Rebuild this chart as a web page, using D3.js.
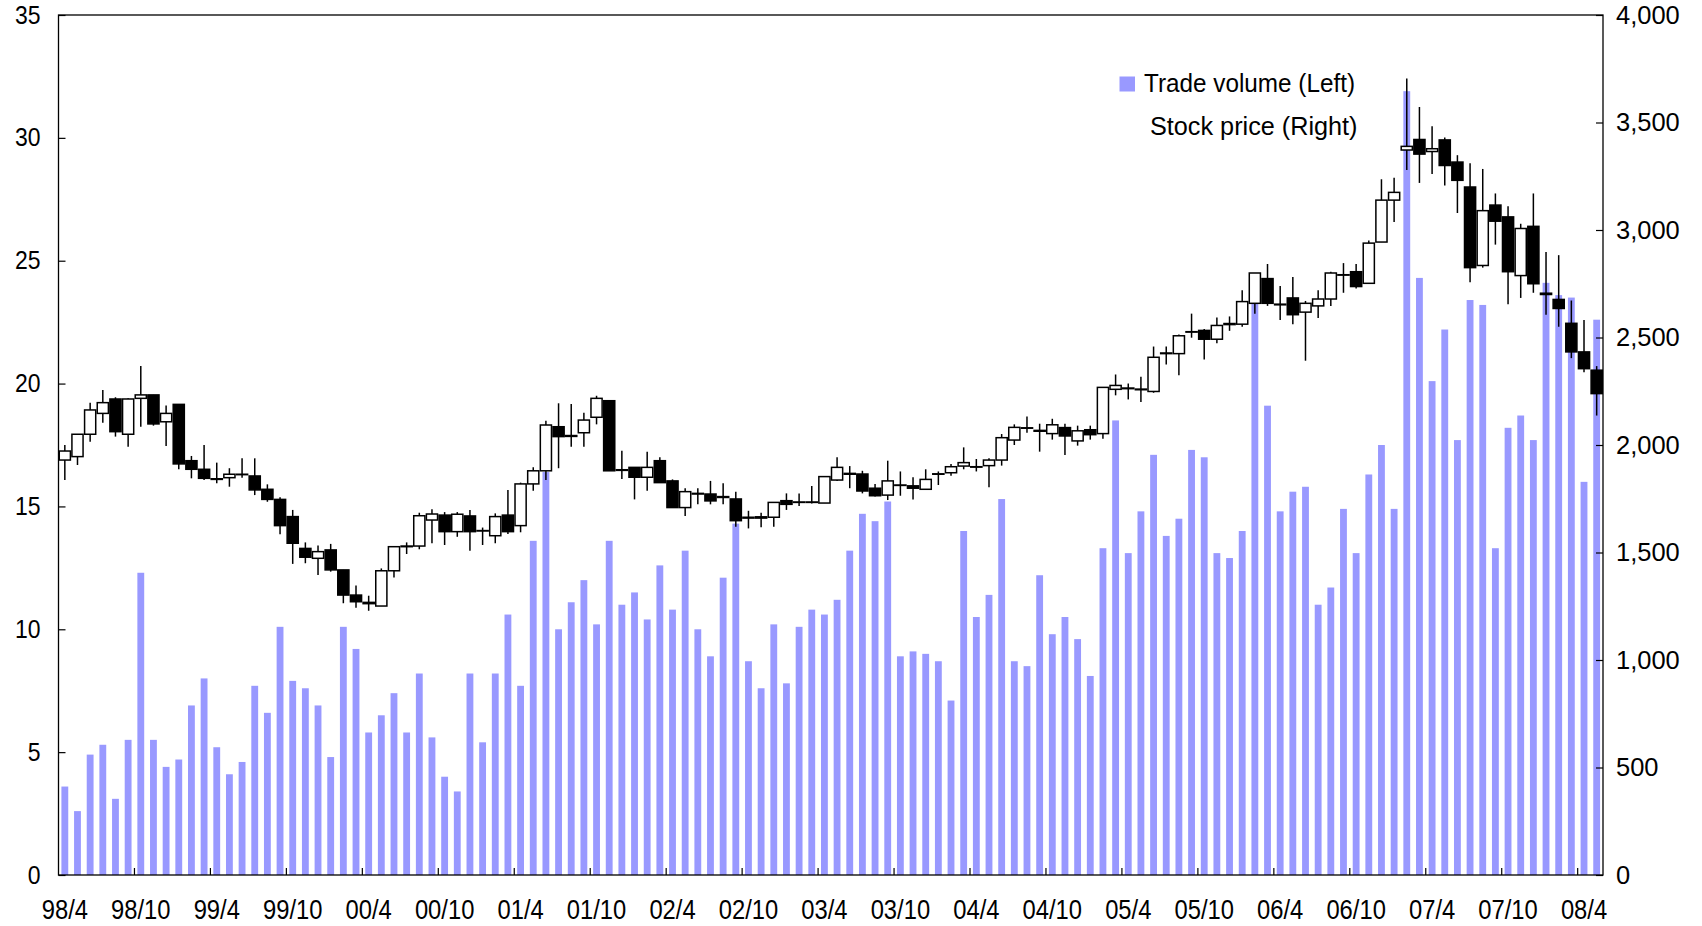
<!DOCTYPE html>
<html>
<head>
<meta charset="utf-8">
<script src="https://cdn.jsdelivr.net/npm/d3@7"></script>
<style>
  html, body { margin: 0; padding: 0; background: #fff; }
  svg { display: block; }
  text { font-family: "Liberation Sans", Arial, Helvetica, sans-serif; fill: #000; }
</style>
</head>
<body>
<svg id="chart" width="1702" height="926"></svg>
<script>
// Monthly categories, April 1998 to May 2008
const months = [
  "98/4","98/5","98/6","98/7","98/8","98/9","98/10","98/11","98/12",
  "99/1","99/2","99/3","99/4","99/5","99/6","99/7","99/8","99/9","99/10","99/11","99/12",
  "00/1","00/2","00/3","00/4","00/5","00/6","00/7","00/8","00/9","00/10","00/11","00/12",
  "01/1","01/2","01/3","01/4","01/5","01/6","01/7","01/8","01/9","01/10","01/11","01/12",
  "02/1","02/2","02/3","02/4","02/5","02/6","02/7","02/8","02/9","02/10","02/11","02/12",
  "03/1","03/2","03/3","03/4","03/5","03/6","03/7","03/8","03/9","03/10","03/11","03/12",
  "04/1","04/2","04/3","04/4","04/5","04/6","04/7","04/8","04/9","04/10","04/11","04/12",
  "05/1","05/2","05/3","05/4","05/5","05/6","05/7","05/8","05/9","05/10","05/11","05/12",
  "06/1","06/2","06/3","06/4","06/5","06/6","06/7","06/8","06/9","06/10","06/11","06/12",
  "07/1","07/2","07/3","07/4","07/5","07/6","07/7","07/8","07/9","07/10","07/11","07/12",
  "08/1","08/2","08/3","08/4","08/5"
];

// Category labels shown on the time axis
const tickLabels = ["98/4","98/10","99/4","99/10","00/4","00/10","01/4","01/10","02/4","02/10",
  "03/4","03/10","04/4","04/10","05/4","05/10","06/4","06/10","07/4","07/10","08/4"];

const volumeTicks = [0, 5, 10, 15, 20, 25, 30, 35];
const priceTicks = [0, 500, 1000, 1500, 2000, 2500, 3000, 3500, 4000];

// Trade volume (left axis)
const volume = [
  3.6, 2.6, 4.9, 5.3, 3.1, 5.5, 12.3, 5.5, 4.4,
  4.7, 6.9, 8.0, 5.2, 4.1, 4.6, 7.7, 6.6, 10.1, 7.9, 7.6, 6.9,
  4.8, 10.1, 9.2, 5.8, 6.5, 7.4, 5.8, 8.2, 5.6, 4.0, 3.4, 8.2,
  5.4, 8.2, 10.6, 7.7, 13.6, 16.4, 10.0, 11.1, 12.0, 10.2, 13.6, 11.0,
  11.5, 10.4, 12.6, 10.8, 13.2, 10.0, 8.9, 12.1, 14.3, 8.7, 7.6, 10.2,
  7.8, 10.1, 10.8, 10.6, 11.2, 13.2, 14.7, 14.4, 15.2, 8.9, 9.1, 9.0,
  8.7, 7.1, 14.0, 10.5, 11.4, 15.3, 8.7, 8.5, 12.2, 9.8, 10.5, 9.6,
  8.1, 13.3, 18.5, 13.1, 14.8, 17.1, 13.8, 14.5, 17.3, 17.0, 13.1, 12.9,
  14.0, 23.3, 19.1, 14.8, 15.6, 15.8, 11.0, 11.7, 14.9, 13.1, 16.3, 17.5,
  14.9, 31.9, 24.3, 20.1, 22.2, 17.7, 23.4, 23.2, 13.3, 18.2, 18.7, 17.7,
  24.1, 23.6, 23.5, 16.0, 22.6
];

// Stock price (right axis): monthly open, high, low, close
const open = [
  1930, 1946, 2050, 2147, 2214, 2050, 2217, 2233, 2108,
  2189, 1927, 1887, 1843, 1848, 1864, 1856, 1794, 1747, 1667, 1519, 1473,
  1512, 1419, 1302, 1268, 1251, 1415, 1527, 1530, 1651, 1674, 1597, 1670,
  1602, 1578, 1674, 1625, 1819, 1880, 2085, 2040, 2057, 2129, 2206, 1885,
  1896, 1850, 1927, 1833, 1709, 1775, 1772, 1760, 1749, 1660, 1660, 1664,
  1741, 1733, 1733, 1730, 1837, 1868, 1865, 1799, 1767, 1812, 1810, 1794,
  1864, 1871, 1902, 1899, 1904, 1930, 2023, 2078, 2068, 2053, 2081, 2019,
  2071, 2053, 2259, 2262, 2260, 2249, 2425, 2425, 2525, 2533, 2492, 2560,
  2562, 2659, 2774, 2655, 2684, 2618, 2647, 2679, 2790, 2806, 2752, 2944,
  3139, 3372, 3421, 3365, 3419, 3316, 3200, 2835, 3116, 3061, 2788, 3017,
  2706, 2677, 2566, 2433, 2348
];
const high = [
  2000, 2050, 2197, 2256, 2222, 2217, 2368, 2233, 2184,
  2189, 1949, 2000, 1918, 1892, 1938, 1938, 1817, 1757, 1698, 1547, 1532,
  1540, 1419, 1346, 1299, 1426, 1527, 1547, 1685, 1701, 1688, 1688, 1698,
  1616, 1682, 1791, 1825, 1896, 2113, 2194, 2191, 2150, 2229, 2206, 1973,
  1896, 1969, 1943, 1840, 1799, 1799, 1833, 1822, 1783, 1694, 1685, 1733,
  1775, 1775, 1809, 1853, 1943, 1902, 1880, 1819, 1927, 1877, 1850, 1887,
  1877, 1912, 1989, 1935, 1938, 2051, 2096, 2132, 2099, 2122, 2099, 2090,
  2090, 2268, 2328, 2286, 2318, 2458, 2458, 2514, 2611, 2540, 2593, 2598,
  2720, 2800, 2842, 2740, 2781, 2670, 2720, 2806, 2846, 2842, 2951, 3236,
  3243, 3705, 3572, 3482, 3430, 3348, 3311, 3284, 3170, 3110, 3029, 3170,
  2898, 2883, 2672, 2581, 2367
];
const low = [
  1837, 1907, 2015, 2104, 2039, 1992, 2085, 2090, 1995,
  1887, 1845, 1837, 1822, 1806, 1848, 1767, 1736, 1585, 1447, 1450, 1395,
  1411, 1264, 1243, 1229, 1251, 1384, 1493, 1515, 1543, 1535, 1573, 1508,
  1535, 1543, 1586, 1594, 1787, 1837, 1892, 1992, 1992, 2096, 1880, 1842,
  1747, 1787, 1825, 1709, 1670, 1724, 1724, 1724, 1620, 1612, 1617, 1620,
  1698, 1716, 1728, 1730, 1833, 1799, 1775, 1760, 1744, 1764, 1747, 1794,
  1814, 1857, 1887, 1877, 1803, 1904, 2000, 2057, 1969, 2025, 1954, 1997,
  2025, 2029, 2231, 2212, 2200, 2243, 2374, 2324, 2499, 2398, 2473, 2531,
  2550, 2610, 2647, 2581, 2562, 2392, 2591, 2647, 2708, 2728, 2750, 2944,
  3037, 3279, 3219, 3260, 3207, 3079, 2757, 2825, 2932, 2655, 2684, 2708,
  2606, 2550, 2404, 2338, 2137
];
const close = [
  1972, 2050, 2163, 2197, 2062, 2214, 2233, 2098, 2147,
  1912, 1887, 1845, 1840, 1864, 1862, 1791, 1747, 1625, 1543, 1478, 1504,
  1419, 1302, 1271, 1262, 1415, 1527, 1530, 1671, 1679, 1597, 1678, 1597,
  1600, 1667, 1597, 1819, 1880, 2093, 2039, 2044, 2116, 2217, 1880, 1882,
  1850, 1896, 1825, 1709, 1783, 1772, 1740, 1756, 1648, 1664, 1666, 1733,
  1724, 1735, 1735, 1853, 1896, 1864, 1786, 1764, 1833, 1814, 1799, 1840,
  1866, 1899, 1918, 1897, 1930, 2034, 2082, 2080, 2064, 2094, 2042, 2066,
  2048, 2268, 2277, 2265, 2257, 2408, 2428, 2508, 2527, 2492, 2556, 2565,
  2667, 2800, 2659, 2652, 2606, 2659, 2679, 2800, 2792, 2737, 2939, 3139,
  3175, 3389, 3353, 3378, 3300, 3231, 2825, 3090, 3041, 2806, 3007, 2750,
  2700, 2635, 2433, 2355, 2239
];

const W = 1702, H = 926;
const margin = { top: 15, right: 99, bottom: 51, left: 58.5 };
const plotBottom = H - margin.bottom, plotRight = W - margin.right;
const svg = d3.select("#chart");

const x = d3.scaleBand().domain(months).range([margin.left, plotRight]);
const yVol = d3.scaleLinear().domain([0, 35]).range([plotBottom, margin.top]);
const yPx = d3.scaleLinear().domain([0, 4000]).range([plotBottom, margin.top]);
const bw = x.bandwidth();
const idx = d3.range(months.length);

// Volume bars
const barW = bw * 0.54;
svg.append("g")
  .selectAll("rect")
  .data(idx)
  .join("rect")
  .attr("x", i => x(months[i]) + (bw - barW) / 2)
  .attr("width", barW)
  .attr("y", i => yVol(volume[i]))
  .attr("height", i => yVol(0) - yVol(volume[i]))
  .attr("fill", "#9999ff");

// Candlesticks: high-low line, then body (white = rise, black = fall)
const cg = svg.append("g");
cg.selectAll("line")
  .data(idx)
  .join("line")
  .attr("x1", i => x(months[i]) + bw / 2)
  .attr("x2", i => x(months[i]) + bw / 2)
  .attr("y1", i => yPx(high[i]))
  .attr("y2", i => yPx(low[i]))
  .attr("stroke", "#000")
  .attr("stroke-width", 1.5);

const bodyW = bw * 0.88;
cg.selectAll("rect")
  .data(idx)
  .join("rect")
  .attr("x", i => x(months[i]) + (bw - bodyW) / 2)
  .attr("width", bodyW)
  .attr("y", i => yPx(Math.max(open[i], close[i])))
  .attr("height", i => Math.max(0.4, Math.abs(yPx(open[i]) - yPx(close[i]))))
  .attr("fill", i => close[i] >= open[i] ? "#fff" : "#000")
  .attr("stroke", "#000")
  .attr("stroke-width", 1.5);

// Plot frame
svg.append("rect")
  .attr("x", margin.left).attr("y", margin.top)
  .attr("width", plotRight - margin.left).attr("height", plotBottom - margin.top)
  .attr("fill", "none").attr("stroke", "#000").attr("stroke-width", 1.3);

// Left axis: trade volume
const sxL = 0.92;
const gL = svg.append("g")
  .attr("transform", `translate(${margin.left},0)`)
  .call(d3.axisLeft(yVol).tickValues(volumeTicks).tickSizeInner(-7).tickSizeOuter(0).tickPadding(18));
gL.select(".domain").remove();
gL.attr("font-size", 25);
gL.selectAll(".tick line").attr("stroke-width", 1.2);
gL.selectAll(".tick text").attr("x", -18 / sxL).attr("transform", `scale(${sxL},1)`);

// Right axis: stock price
const sxR = 1.02;
const gR = svg.append("g")
  .attr("transform", `translate(${plotRight},0)`)
  .call(d3.axisRight(yPx).tickValues(priceTicks).tickFormat(d3.format(",")).tickSizeInner(-7).tickSizeOuter(0).tickPadding(13));
gR.select(".domain").remove();
gR.attr("font-size", 25);
gR.selectAll(".tick line").attr("stroke-width", 1.2);
gR.selectAll(".tick text").attr("x", 13 / sxR).attr("transform", `scale(${sxR},1)`);

// Bottom axis: labels centred on their month, ticks at the month boundary
const sxB = 0.88;
const gB = svg.append("g")
  .attr("transform", `translate(0,${plotBottom})`)
  .call(d3.axisBottom(x).tickValues(tickLabels).tickSize(0).tickPadding(25));
gB.select(".domain").remove();
gB.attr("font-size", 27);
gB.selectAll(".tick text").attr("transform", `scale(${sxB},1)`);
gB.selectAll(".tick line").remove();
svg.append("g")
  .selectAll("line")
  .data(tickLabels.slice(1))
  .join("line")
  .attr("x1", d => x(d)).attr("x2", d => x(d))
  .attr("y1", plotBottom).attr("y2", plotBottom - 7)
  .attr("stroke", "#000").attr("stroke-width", 1.2);

// Legend
const lg = svg.append("g");
lg.append("rect")
  .attr("x", 1119.5).attr("y", 76.5).attr("width", 15.5).attr("height", 15)
  .attr("fill", "#9999ff");
lg.append("text")
  .attr("x", 1144).attr("y", 92.3)
  .attr("font-size", 26.5)
  .attr("textLength", 211).attr("lengthAdjust", "spacingAndGlyphs")
  .text("Trade volume (Left)");
lg.append("text")
  .attr("x", 1150).attr("y", 135)
  .attr("font-size", 26.5)
  .attr("textLength", 207.5).attr("lengthAdjust", "spacingAndGlyphs")
  .text("Stock price (Right)");
</script>
</body>
</html>
